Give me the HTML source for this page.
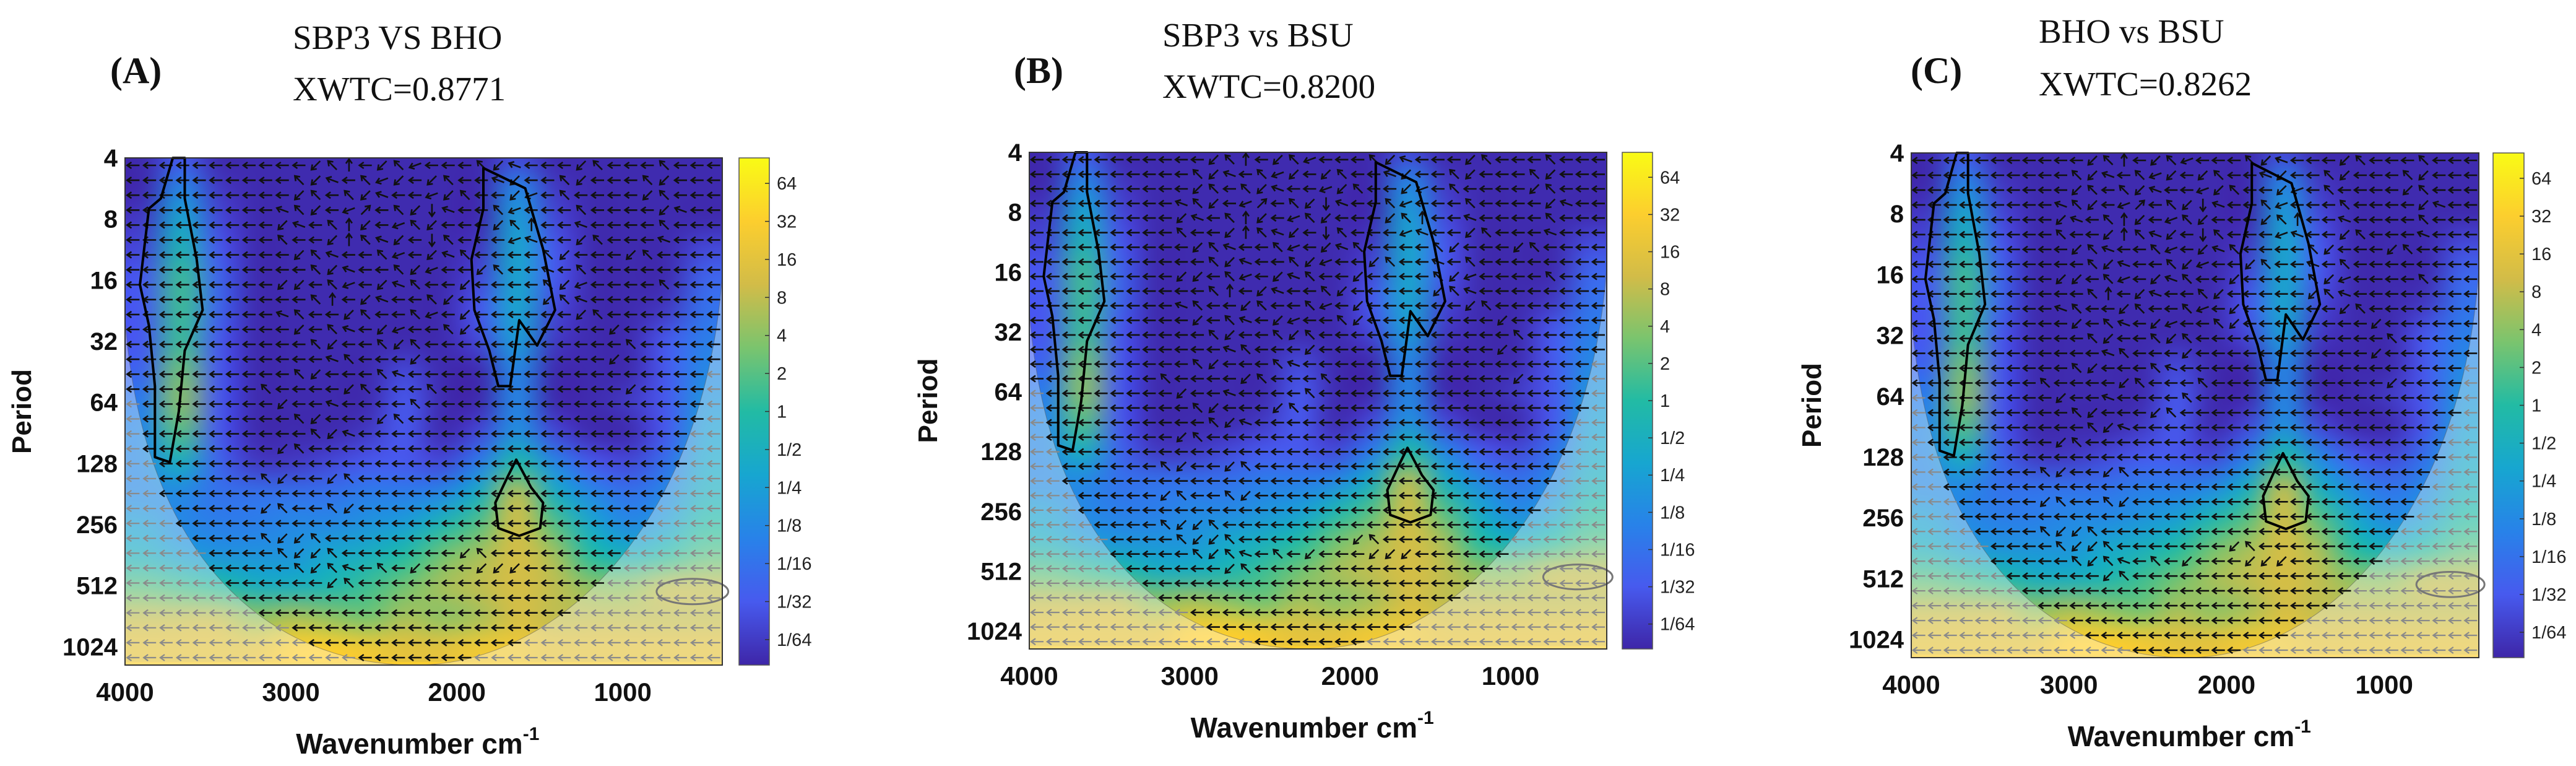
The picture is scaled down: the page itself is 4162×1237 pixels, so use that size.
<!DOCTYPE html>
<html><head><meta charset="utf-8">
<style>
html,body{margin:0;padding:0;background:#fff;}
#wrap{position:relative;width:4162px;height:1237px;overflow:hidden;background:#fff;}
canvas{position:absolute;}
svg{position:absolute;left:0;top:0;}
</style></head>
<body>
<div id="wrap">
<canvas id="cA"></canvas>
<canvas id="cB"></canvas>
<canvas id="cC"></canvas>
<svg id="ov" width="4162" height="1237" xmlns="http://www.w3.org/2000/svg"></svg>
</div>
<script>
// ---- data ----
const periodTicks = [4, 8, 16, 32, 64, 128, 256, 512, 1024];
const xTicks = [4000, 3000, 2000, 1000];
const cbarTicks = ["64","32","16","8","4","2","1","1/2","1/4","1/8","1/16","1/32","1/64"];
const cbarTickVals = [6,5,4,3,2,1,0,-1,-2,-3,-4,-5,-6];
const panelLabels = ["(A)","(B)","(C)"];
const panelTitles = ["SBP3 VS BHO","SBP3 vs BSU","BHO vs BSU"];
const xwtcValues = ["0.8771","0.8200","0.8262"];
// log2 power grid: 17 rows (log2 period 2..10, step 0.5) x 16 cols (wavenumber 4000 -> 400)
const powerRows = [
 [-6.5,-5,-6.5,-6.5,-6.5,-6.5,-6.5,-6.5,-6.5,-6.5,-5.5,-6.5,-6.5,-6.5,-6.5,-6.5],
 [-6.5,-3,-6,-6.5,-6.5,-6.5,-6.5,-6.5,-6.5,-6.5,-3,-6,-6.5,-6.5,-6.5,-6.5],
 [-6,-1.5,-5.5,-6.5,-6.5,-6.5,-6.5,-6.5,-6.5,-6.5,-2,-5.5,-6.5,-6.5,-6.5,-6.5],
 [-5.5,-0.5,-5,-6.5,-6.5,-6.5,-6.5,-6.5,-6.5,-6,-1.5,-5,-6.5,-6.5,-6.5,-5.5],
 [-5,0.5,-4.5,-6.5,-6.5,-6.5,-6.5,-6.5,-6.5,-5.5,-1.5,-5,-6.5,-6.5,-6.5,-4.5],
 [-5,0.5,-4.5,-6.5,-6.5,-6.5,-6.5,-6.5,-6.5,-5,-1.5,-5.5,-6.5,-6.5,-6,-4],
 [-5,0.5,-5,-6.5,-6.5,-6.5,-6.5,-6.5,-6.5,-5.5,-2,-6,-6.5,-6.5,-5,-3.5],
 [-4.5,1.5,-5,-6.5,-6.5,-6.5,-6.5,-5.5,-6.5,-6.5,-3,-6.5,-6.5,-6.5,-5,-3],
 [-3.5,2,-5,-6.5,-6.5,-6.5,-6.5,-5,-6.5,-6.5,-3,-6.5,-6.5,-6,-5,-2.5],
 [-3,1,-5,-6.5,-6.5,-6.5,-6,-5,-6.5,-5.5,-2.5,-5.5,-6.5,-6.5,-5,-2],
 [-3,-1,-4.5,-6,-6,-5.5,-5,-5,-5.5,-3.5,0,-3,-5,-5.5,-4,-1.5],
 [-3,-3,-4,-4,-4,-4,-3.5,-3.5,-3,-1,3,-1,-3,-4,-3,-1],
 [-2,-3,-3.5,-3.5,-3,-3,-2.5,-2,-0.5,1,3.5,1,-1.5,-3,-2,0],
 [-1,-2,-2.5,-2.5,-2.5,-1.5,-1,0,1.5,2.5,3.5,2.5,0,-1,0,1],
 [1,0.5,0,-1,-1,-0.5,0.5,1.5,2.5,3,3.5,3,2,2,3,3],
 [3,3,3,2,2.5,2,1.5,2.5,2,2.5,3.5,3,3,3,3,3],
 [4,4,4,4,5,5,4.5,4,4,4.5,4.5,4,4,4,4,4]
];
// phase arrow codes: 0=left,1=up-left,2=down-left,3=up,4=down,5=up-right,6=down-right,7=left-up,8=left-down
const phaseRows = [
 "000000000002130218000127000210001000",
 "000000000012701820210072001200012000",
 "000000000021012700821002801000021000",
 "000000000712085012470018000100002700",
 "000000000270132081200021300700001000",
 "000000000100231720410008700210007000",
 "000000000021700180271000012000210000",
 "000000000001270012800210070100000000",
 "000000000220180271002000012800001000",
 "000000000001302700120000021700000000",
 "000000000710021001802000000210000000",
 "000000000020170280012000000002000000",
 "000000000001200121000000000000100000",
 "000000000000710002000000000002000000",
 "000000000012000170000000000000000000",
 "000000001000021000100000000000200000",
 "000000000200700001000000000000000000",
 "000000000012000210000000000000000000",
 "000000000001270000000000000000000000",
 "000000000210000000000000000000000000",
 "000000000000000000000000000000000000",
 "000000001200210000000000000000000000",
 "000000000000000000000000000000000000",
 "000000002100120000000000000000000000",
 "000000000000000000000000000000000000",
 "000000001221000000000000000000000000",
 "000000000122100000002100000000000000",
 "000000000012170102000222000000000000",
 "000000000000210000000000000000000000",
 "000000000000000000000000000000000000",
 "000000000000000000000000000000000000",
 "000000000000000000000000000000000000",
 "000000000000000000000000000000000000",
 "000000000000000000000000000000000000"
];
const phaseAngles = [180,135,225,90,270,45,315,160,200];

const panels = [
 {plot:{x:202,y:255,w:965,h:819}, cbar:{x:1194,w:49}, lab:{x:178,y:114}, title:{x:473,y1:59,y2:142}, per:36, canvas:'cA'},
 {plot:{x:1663,y:246,w:933,h:802}, cbar:{x:2621,w:49}, lab:{x:1638,y:114}, title:{x:1878,y1:55,y2:138}, per:1500, canvas:'cB'},
 {plot:{x:3088,y:247,w:917,h:815}, cbar:{x:4028,w:50}, lab:{x:3087,y:114}, title:{x:3294,y1:49,y2:134}, per:2928, canvas:'cC'}
];

const parula = [[62,38,168],[71,90,238],[40,130,233],[23,166,208],[34,187,164],[122,196,110],[210,188,72],[252,206,46],[249,251,21]];
function cmap(v){
 let t=(v+6.67)/13.34; t=Math.max(0,Math.min(1,t));
 const f=t*(parula.length-1), i=Math.min(parula.length-2,Math.floor(f)), r=f-i;
 return parula[i].map((c,k)=>Math.round(c+(parula[i+1][k]-c)*r));
}
const NS='http://www.w3.org/2000/svg';
const ov=document.getElementById('ov');
function el(tag,attrs,parent){const e=document.createElementNS(NS,tag);for(const k in attrs)e.setAttribute(k,attrs[k]);(parent||ov).appendChild(e);return e;}

panels.forEach((P,pi)=>{
 const p=P.plot;
 const xScale=w=>p.x+(4000-w)/3600*p.w;
 const yScale=per=>p.y+(Math.log2(per)-2)/8.3*p.h;
 const cv=document.getElementById(P.canvas);
 cv.width=p.w; cv.height=p.h; cv.style.left=p.x+'px'; cv.style.top=p.y+'px';
 const ctx=cv.getContext('2d');
 const rows=powerRows.length, cols=powerRows[0].length;
 const sm=document.createElement('canvas'); sm.width=cols; sm.height=rows;
 const sctx=sm.getContext('2d'); const img=sctx.createImageData(cols,rows);
 for(let r=0;r<rows;r++)for(let c=0;c<cols;c++){const col=cmap(powerRows[r][c]);const o=(r*cols+c)*4;img.data[o]=col[0];img.data[o+1]=col[1];img.data[o+2]=col[2];img.data[o+3]=255;}
 sctx.putImageData(img,0,0);
 ctx.imageSmoothingEnabled=true; ctx.imageSmoothingQuality='high';
 const rowH=p.h/8.3*0.5;
 const bc=cmap(powerRows[rows-1][5]);
 ctx.fillStyle=`rgb(${bc.join(',')})`; ctx.fillRect(0,p.h*0.9,p.w,p.h*0.1);
 ctx.drawImage(sm,0,-rowH/2,p.w,rowH*rows);

 const g=el('g',{});
 
 
 const L=p.x,R=p.x+p.w,T=p.y,B=p.y+p.h;
 const coi=`M${L},${T+p.h*0.317} C${L+p.w*0.03},${T+p.h*0.8} ${L+p.w*0.25},${B} ${L+p.w*0.485},${B} C${L+p.w*0.72},${B} ${L+p.w*0.97},${T+p.h*0.73} ${R},${T+p.h*0.23}`;
 const mask=el('path',{d:coi+` L${R},${B} L${L},${B} Z`,fill:'#fff','fill-opacity':'0.35'},g);
 
 
 const coiLine=el('path',{d:coi,fill:'none',stroke:'#555','stroke-width':1,'stroke-opacity':0.5},g);
 
 
 const nC=36,nR=phaseRows.length, dx=p.w/nC, dy=p.h/nR;
 let dIn='',dOut='';
 const coiY=(x)=>{
  const u=(x-L)/p.w; const e=(u-0.485)/ (u<0.485?0.485:0.515);
  const top=u<0.485?0.317:0.23; return T+p.h*(top+(1-top)*Math.sqrt(Math.max(0,1-e*e)));
 };
 for(let r=0;r<nR;r++)for(let c=0;c<nC;c++){
  const cx=L+(c+0.5)*dx, cy=T+(r+0.5)*dy;
  const a=phaseAngles[+phaseRows[r][c]]*Math.PI/180;
  const len=10, ux=Math.cos(a), uy=-Math.sin(a);
  const x1=cx-ux*len,y1=cy-uy*len,x2=cx+ux*len,y2=cy+uy*len;
  const hx1=x2-ux*7-uy*5, hy1=y2-uy*7+ux*5, hx2=x2-ux*7+uy*5, hy2=y2-uy*7-ux*5;
  const s=`M${x1.toFixed(1)},${y1.toFixed(1)}L${x2.toFixed(1)},${y2.toFixed(1)}M${hx1.toFixed(1)},${hy1.toFixed(1)}L${x2.toFixed(1)},${y2.toFixed(1)}L${hx2.toFixed(1)},${hy2.toFixed(1)}`;
  if(cy<coiY(cx)) dIn+=s; else dOut+=s;
 }
 const aIn=el('path',{d:dIn,fill:'none',stroke:'#111','stroke-width':2.6},g);
 
 
 const aOut=el('path',{d:dOut,fill:'none',stroke:'#8a8a8a','stroke-width':2.2},g);
 
 
 const U=(u,v)=>`${(L+u*p.w).toFixed(1)},${(T+v*p.h).toFixed(1)}`;
 const cont=[
  [[0.1,0],[0.1,0.08],[0.12,0.2],[0.13,0.3],[0.1,0.38],[0.09,0.5],[0.075,0.6],[0.05,0.59],[0.05,0.45],[0.04,0.33],[0.025,0.25],[0.04,0.1],[0.06,0.08],[0.08,0]],
  [[0.6,0.02],[0.67,0.06],[0.7,0.18],[0.72,0.3],[0.69,0.37],[0.66,0.32],[0.645,0.45],[0.625,0.45],[0.61,0.38],[0.585,0.3],[0.58,0.2],[0.6,0.1]],
  [[0.655,0.595],[0.68,0.65],[0.7,0.68],[0.695,0.73],[0.66,0.745],[0.625,0.73],[0.62,0.68],[0.64,0.63]]
 ];
 cont.forEach((pts)=>{
  const cp=el('path',{d:'M'+pts.map(q=>U(q[0],q[1])).join('L')+'Z',fill:'none',stroke:'#000','stroke-width':4,'stroke-linejoin':'round'},g);
  
  
 });
 const gc=el('ellipse',{cx:L+p.w*0.95,cy:T+p.h*0.855,rx:p.w*0.06,ry:p.h*0.025,fill:'none',stroke:'#777','stroke-width':3},g);
 
 
 const fr=el('rect',{x:L,y:T,width:p.w,height:p.h,fill:'none',stroke:'#333','stroke-width':2},g);
 
 
 periodTicks.forEach(v=>{
  const y=yScale(v);
  const t=el('text',{x:L-12,y:y+14,'text-anchor':'end','font-family':'Liberation Sans, sans-serif','font-weight':'bold','font-size':40,fill:'#111'},g);
  t.textContent=v;
  
  
 });
 xTicks.forEach(v=>{
  const x=xScale(v);
  const t=el('text',{x:x,y:B+58,'text-anchor':'middle','font-family':'Liberation Sans, sans-serif','font-weight':'bold','font-size':42,fill:'#111'},g);
  t.textContent=v;
  
  
 });
 const yl=el('text',{x:0,y:0,transform:`translate(${P.per+14},${T+p.h*0.5}) rotate(-90)`,'text-anchor':'middle','font-family':'Liberation Sans, sans-serif','font-weight':'bold','font-size':44,fill:'#111'},g);
 yl.textContent='Period';
 
 
 const xl=el('text',{x:L+p.w*0.49,y:B+143,'text-anchor':'middle','font-family':'Liberation Sans, sans-serif','font-weight':'bold','font-size':46,fill:'#111'},g);
 xl.innerHTML='Wavenumber cm<tspan dy="-22" font-size="30">-1</tspan>';
 
 
 const cb=P.cbar;
 const gradId='grad'+pi;
 const defs=el('defs',{},g);
 const lg=el('linearGradient',{id:gradId,x1:0,y1:1,x2:0,y2:0},defs);
 parula.forEach((c,i)=>el('stop',{offset:i/(parula.length-1),'stop-color':`rgb(${c.join(',')})`},lg));
 const cbr=el('rect',{x:cb.x,y:T,width:cb.w,height:p.h,fill:`url(#${gradId})`,stroke:'#555','stroke-width':1.5},g);
 
 
 cbarTicks.forEach((lab,i)=>{
  const y=T+(6.67-cbarTickVals[i])/13.34*p.h;
  el('line',{x1:cb.x+cb.w-7,x2:cb.x+cb.w,y1:y,y2:y,stroke:'#333','stroke-width':1.5},g);
  const t=el('text',{x:cb.x+cb.w+12,y:y+10,'font-family':'Liberation Sans, sans-serif','font-size':29,fill:'#222'},g);
  t.textContent=lab;
  
  
 });
 const pl=el('text',{x:P.lab.x,y:P.lab.y+20,'font-family':'Liberation Serif, serif','font-weight':'bold','font-size':60,fill:'#111'},g);
 pl.textContent=panelLabels[pi];
 
 
 const t1=el('text',{x:P.title.x,y:P.title.y1+20,'font-family':'Liberation Serif, serif','font-size':55,fill:'#111'},g);
 t1.textContent=panelTitles[pi];
 
 
 const t2=el('text',{x:P.title.x,y:P.title.y2+20,'font-family':'Liberation Serif, serif','font-size':55,fill:'#111'},g);
 t2.textContent='XWTC='+xwtcValues[pi];
 
 
});
</script>
</body></html>
